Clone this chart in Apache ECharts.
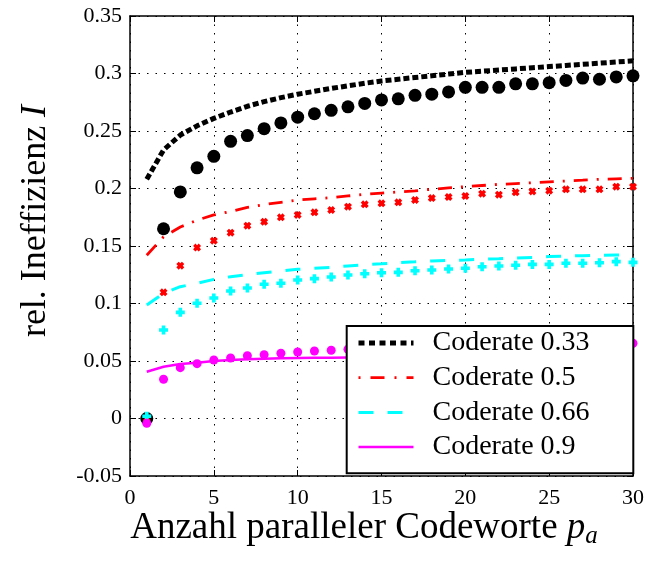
<!DOCTYPE html>
<html>
<head>
<meta charset="utf-8">
<script src="https://cdn.jsdelivr.net/npm/echarts@6/dist/echarts.min.js"></script>
<style>
html,body{margin:0;padding:0;background:#fff;}
#chart{width:653px;height:565px;}
</style>
</head>
<body>
<div id="chart"></div>
<script>
// ---- data ----
var pa = [1,2,3,4,5,6,7,8,9,10,11,12,13,14,15,16,17,18,19,20,21,22,23,24,25,26,27,28,29,30];

var seriesNames = ['Coderate 0.33','Coderate 0.5','Coderate 0.66','Coderate 0.9'];

var theo033 = [0.208,0.2335,0.2465,0.2545,0.261,0.2665,0.2715,0.2755,0.279,0.282,0.2845,0.287,0.2893,0.2915,0.2935,0.295,0.2965,0.298,0.2995,0.301,0.302,0.303,0.304,0.305,0.306,0.307,0.308,0.309,0.310,0.311];
var sim033  = [0,0.165,0.197,0.218,0.228,0.241,0.246,0.252,0.257,0.262,0.265,0.268,0.271,0.274,0.277,0.278,0.281,0.282,0.284,0.288,0.288,0.288,0.291,0.291,0.292,0.294,0.296,0.295,0.297,0.298];

var theo05 = [0.142,0.158,0.1665,0.1725,0.177,0.18,0.1835,0.186,0.188,0.19,0.191,0.192,0.1935,0.195,0.196,0.197,0.198,0.1993,0.2005,0.2016,0.2026,0.2036,0.2043,0.205,0.2058,0.2065,0.2072,0.208,0.2084,0.2088];
var sim05  = [0,0.1097,0.1329,0.1486,0.1546,0.1616,0.1677,0.1711,0.1749,0.177,0.1793,0.1813,0.1842,0.1862,0.1871,0.188,0.19,0.1917,0.1926,0.1935,0.1955,0.1946,0.1967,0.1975,0.1981,0.1993,0.1993,0.1993,0.2016,0.2016];

var theo066 = [0.0987,0.1089,0.1146,0.1176,0.121,0.1233,0.125,0.1268,0.1283,0.1297,0.1306,0.1315,0.1326,0.1337,0.1345,0.1356,0.1362,0.137,0.1375,0.1378,0.1385,0.139,0.1396,0.14,0.1408,0.1412,0.1416,0.1419,0.1422,0.1425];
var sim066  = [0.002,0.077,0.0923,0.1002,0.1048,0.1109,0.1135,0.1167,0.1176,0.1204,0.1216,0.123,0.1248,0.1259,0.1268,0.1271,0.1285,0.1291,0.13,0.1306,0.132,0.1326,0.1332,0.134,0.134,0.135,0.135,0.1355,0.1364,0.1358];

var theo09 = [0.0407,0.045,0.0474,0.0485,0.05,0.0509,0.0515,0.052,0.0523,0.0526,0.0528,0.0529,0.053,0.0531,0.0532,0.0532,0.0533,0.0533,0.0534,0.0534,0.0535,0.0535,0.0535,0.0536,0.0536,0.0536,0.0537,0.0537,0.0537,0.0538];
var sim09  = [-0.0042,0.0341,0.0442,0.0477,0.0509,0.0526,0.0546,0.0555,0.0567,0.0578,0.0587,0.0593,0.0602,0.0606,0.061,0.0613,0.0616,0.0619,0.0622,0.0625,0.0628,0.063,0.0633,0.0635,0.0638,0.064,0.0643,0.0646,0.065,0.0654];

var xTickLabels = ['0','5','10','15','20','25','30'];
var yTickLabels = ['-0.05','0','0.05','0.1','0.15','0.2','0.25','0.3','0.35'];

// ---- chart ----
var FONT = '"Liberation Serif","Times New Roman",Times,serif';
function pairs(ys){ return pa.map(function(x,i){ return [x, ys[i]]; }); }

var X_MIN = 0, X_MAX = 30, X_INT = 5;
var Y_MIN = -0.05, Y_MAX = 0.35, Y_INT = 0.05;

function xFmt(v){ var i = Math.round((v - X_MIN)/X_INT); return xTickLabels[i] || ''; }
function yFmt(v){ var i = Math.round((v - Y_MIN)/Y_INT); return yTickLabels[i] || ''; }

var axisLineStyle = {color:'#000', width:1.5};
var gridDots = {show:true, lineStyle:{color:'#000', width:1, type:[1.5,7]}};

var symX = 'path://M0,3 L3,0 L5,2 L7,0 L10,3 L8,5 L10,7 L7,10 L5,8 L3,10 L0,7 L2,5 Z';
var symPlus = 'path://M3,0 L7,0 L7,3 L10,3 L10,7 L7,7 L7,10 L3,10 L3,7 L0,7 L0,3 L3,3 Z';

var lineStyles = [
  {color:'#000', width:5, type:[6,3], cap:'butt'},
  {color:'#ff0000', width:2.8, type:[14,9,2,9], cap:'butt'},
  {color:'#00ffff', width:3, type:[15,14], cap:'butt'},
  {color:'#ff00ff', width:2.5, type:'solid'}
];
var legendLineStyles = [
  {color:'#000', width:5, type:[6,4.5], cap:'butt'},
  {color:'#ff0000', width:2.8, type:[2,10,14,10], cap:'butt'},
  {color:'#00ffff', width:3, type:[15,14], cap:'butt'},
  {color:'#ff00ff', width:2.5, type:'solid'}
];

var chart = echarts.init(document.getElementById('chart'), null, {renderer:'canvas'});
var option = {
  animation:false,
  backgroundColor:'#fff',
  grid:{left:130, right:20, top:16, bottom:89, containLabel:false},
  xAxis:[{
    type:'value', min:X_MIN, max:X_MAX, interval:X_INT, position:'bottom',
    axisLine:{show:true, onZero:false, lineStyle:axisLineStyle},
    axisTick:{show:true, inside:true, length:6, lineStyle:{color:'#000', width:1}},
    axisLabel:{show:true, formatter:xFmt, margin:11, color:'#000', fontSize:22, fontFamily:FONT},
    splitLine:gridDots
  },{
    type:'value', min:X_MIN, max:X_MAX, interval:X_INT, position:'top',
    axisLine:{show:true, onZero:false, lineStyle:axisLineStyle},
    axisTick:{show:true, inside:true, length:6, lineStyle:{color:'#000', width:1}},
    axisLabel:{show:false}, splitLine:{show:false}
  }],
  yAxis:[{
    type:'value', min:Y_MIN, max:Y_MAX, interval:Y_INT, position:'left',
    axisLine:{show:true, onZero:false, lineStyle:axisLineStyle},
    axisTick:{show:true, inside:true, length:6, lineStyle:{color:'#000', width:1}},
    axisLabel:{show:true, formatter:yFmt, margin:8, color:'#000', fontSize:22, fontFamily:FONT},
    splitLine:gridDots
  },{
    type:'value', min:Y_MIN, max:Y_MAX, interval:Y_INT, position:'right',
    axisLine:{show:true, onZero:false, lineStyle:axisLineStyle},
    axisTick:{show:true, inside:true, length:6, lineStyle:{color:'#000', width:1}},
    axisLabel:{show:false}, splitLine:{show:false}
  }],
  legend:{
    data:seriesNames.map(function(n,i){ return {name:n, lineStyle:legendLineStyles[i], itemStyle:{opacity:0}}; }),
    orient:'vertical', left:356, top:328, padding:0,
    itemWidth:55, itemHeight:14, itemGap:4.7,
    selectedMode:false, z:20,
    itemStyle:{opacity:0},
    textStyle:{color:'#000', fontSize:28, fontFamily:FONT, lineHeight:30, padding:[0,0,0,14]}
  },
  graphic:[
    {type:'rect', z:10, shape:{x:346.7, y:326, width:286.6, height:147.3},
     style:{fill:'#fff', stroke:'#000', lineWidth:2}},
    {type:'text', x:36, y:221, rotation:Math.PI/2, z:10,
     style:{text:'{n|rel. Ineffizienz }{i|I}', align:'center', verticalAlign:'middle',
       rich:{n:{fontSize:36, fontFamily:FONT, fill:'#000'}, i:{fontSize:36, fontFamily:FONT, fontStyle:'italic', fill:'#000'}}}},
    {type:'text', x:364, y:528, z:10,
     style:{text:'{n|Anzahl paralleler Codeworte }{i|p}{s|a}', align:'center', verticalAlign:'middle',
       rich:{n:{fontSize:37, fontFamily:FONT, fill:'#000', lineHeight:42}, i:{fontSize:37, fontFamily:FONT, fontStyle:'italic', fill:'#000', lineHeight:42},
             s:{fontSize:25, fontFamily:FONT, fontStyle:'italic', fill:'#000', lineHeight:42, verticalAlign:'bottom', padding:[14,0,0,0]}}}}
  ],
  series:[
    {name:seriesNames[0], type:'line', data:pairs(theo033), symbol:'none', z:2,
     lineStyle:lineStyles[0], itemStyle:{color:'#000'}},
    {name:seriesNames[1], type:'line', data:pairs(theo05), symbol:'none', z:2,
     lineStyle:lineStyles[1], itemStyle:{color:'#ff0000'}},
    {name:seriesNames[2], type:'line', data:pairs(theo066), symbol:'none', z:2,
     lineStyle:lineStyles[2], itemStyle:{color:'#00ffff'}},
    {name:seriesNames[3], type:'line', data:pairs(theo09), symbol:'none', z:2,
     lineStyle:lineStyles[3], itemStyle:{color:'#ff00ff'}},
    {name:'sim033', type:'scatter', data:pairs(sim033), symbol:'circle', symbolSize:13, z:3,
     itemStyle:{color:'#000', opacity:1}},
    {name:'sim05', type:'scatter', data:pairs(sim05), symbol:symX, symbolSize:8, z:3,
     itemStyle:{color:'#ff0000', opacity:1}},
    {name:'sim066', type:'scatter', data:pairs(sim066), symbol:symPlus, symbolSize:9, z:3,
     itemStyle:{color:'#00ffff', opacity:1}},
    {name:'sim09', type:'scatter', data:pairs(sim09), symbol:'circle', symbolSize:9, z:3,
     itemStyle:{color:'#ff00ff', opacity:1}}
  ]
};
chart.setOption(option);
</script>
</body>
</html>
